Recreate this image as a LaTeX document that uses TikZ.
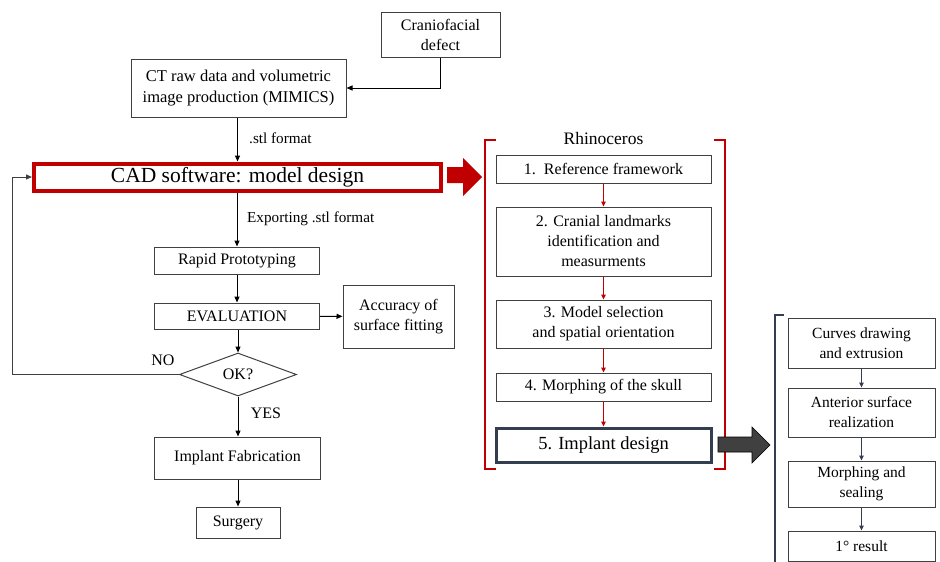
\documentclass[tikz,border=0pt]{standalone}
\usepackage{fontspec}
\setmainfont{Liberation Serif}
\newfontfamily\tnr{Liberation Serif}
\usetikzlibrary{shapes.geometric,arrows.meta}
\definecolor{cred}{HTML}{C00000}
\definecolor{slate}{HTML}{333F50}
\definecolor{bgray}{HTML}{404040}
\definecolor{darkfill}{HTML}{404040}
\begin{document}
\begin{tikzpicture}[x=1pt,y=-1pt,
  box/.style={draw=bgray,line width=1pt,align=center,inner sep=0pt,font=\tnr\fontsize{16}{20}\selectfont},
  sbox/.style={box,font=\tnr\fontsize{15.5}{20}\selectfont},
  lbl/.style={inner sep=0pt,font=\tnr\fontsize{15.2}{17}\selectfont},
  arr/.style={-{Triangle[length=6pt,width=5pt]},line width=1pt,draw=black},
  rarr/.style={-{Triangle[length=5pt,width=4.5pt]},line width=1pt,draw=cred},
  sarr/.style={-{Triangle[length=5pt,width=4.5pt]},line width=1pt,draw=slate}
]
\useasboundingbox (0,0) rectangle (940,562);

% left column
\node[box,minimum width=119pt,minimum height=45pt] (cf) at (440.5,34.5) {Craniofacial\\defect};
\node[box,minimum width=215pt,minimum height=58pt,font=\tnr\fontsize{16.5}{20.5}\selectfont] (ct) at (238.5,88) {CT raw data and volumetric\\image production (MIMICS)};
\node[box,draw=cred,line width=4pt,minimum width=407pt,minimum height=27pt,font=\tnr\fontsize{21.5}{24}\selectfont] (cad) at (237.5,177) {CAD software: model design};
\node[box,minimum width=165pt,minimum height=27pt] (rp) at (237,260.5) {Rapid Prototyping};
\node[box,minimum width=165pt,minimum height=26pt] (ev) at (237,316) {EVALUATION};
\node[box,minimum width=111pt,minimum height=63pt] (acc) at (398.5,316.5) {Accuracy of\\surface fitting};
\node[box,shape=diamond,aspect=2.72,minimum width=117pt,minimum height=43pt] (ok) at (238,374.5) {OK?};
\node[box,minimum width=166pt,minimum height=42pt] (fab) at (237.5,458) {Implant Fabrication};
\node[box,minimum width=84pt,minimum height=31pt] (sur) at (238,522.5) {Surgery};

\draw[arr] (cf.south) |- (ct.east);
\draw[arr] (ct.south -| cad.north) -- (cad.north);
\node[lbl,anchor=west] (l1) at (249,138) {.stl format};
\draw[arr] (cad.south -| rp.north) -- (rp.north);
\node[lbl,anchor=west] (l2) at (247,219) {Exporting .stl format};
\draw[arr] (rp) -- (ev);
\draw[arr] (ev) -- (acc);
\draw[arr] (ev.south -| ok.north) -- (ok.north);
\draw[arr] (ok.south) -- (ok.south |- fab.north);
\node[lbl,font=\tnr\fontsize{16}{18}\selectfont] (yes) at (266,413) {YES};
\node[lbl,font=\tnr\fontsize{16}{18}\selectfont] (no) at (163,360) {NO};
\draw[arr,draw=bgray] (ok.west) -- (12,374.5) |- (cad.west);
\draw[arr] (fab.south -| sur.north) -- (sur.north);

% red block arrow
\fill[cred] (447,167) -- (463,167) -- (463,158) -- (482,177) -- (463,196) -- (463,183) -- (447,183) -- cycle;

% Rhinoceros group
\draw[cred,line width=2.2pt] (496,140) -- (485,140) -- (485,469) -- (496,469);
\draw[cred,line width=2.2pt] (714,140) -- (725,140) -- (725,469) -- (714,469);
\node[lbl,font=\tnr\fontsize{17.5}{20}\selectfont] (rh) at (603.5,139) {Rhinoceros};
\node[box,minimum width=215pt,minimum height=28pt] (b1) at (603.5,169) {1.\ \ Reference framework};
\node[box,minimum width=215pt,minimum height=69pt] (b2) at (603.5,241.5) {2. Cranial landmarks\\identification and\\measurments};
\node[box,minimum width=215pt,minimum height=48pt] (b3) at (603.5,324) {3. Model selection\\and spatial orientation};
\node[box,minimum width=215pt,minimum height=28pt] (b4) at (603.5,387) {4. Morphing of the skull};
\node[box,draw=slate,line width=3pt,minimum width=215pt,minimum height=34pt,font=\tnr\fontsize{18.5}{22}\selectfont] (b5) at (603.5,445) {5. Implant design};
\draw[rarr] (b1) -- (b2);
\draw[rarr] (b2) -- (b3);
\draw[rarr] (b3) -- (b4);
\draw[rarr] (b4) -- (b5);

% dark block arrow
\filldraw[fill=darkfill,draw=black,line width=0.6pt] (718,437) -- (752,437) -- (752,427) -- (770,445) -- (752,463) -- (752,452) -- (718,452) -- cycle;

% right group
\draw[slate,line width=2.2pt] (784,315) -- (775,315) -- (775,562);
\node[sbox,minimum width=147pt,minimum height=50pt] (c1) at (861.5,343) {Curves drawing\\and extrusion};
\node[sbox,minimum width=147pt,minimum height=49pt] (c2) at (861.5,412.5) {Anterior surface\\realization};
\node[sbox,minimum width=147pt,minimum height=46pt] (c3) at (861.5,484) {Morphing and\\sealing};
\node[sbox,minimum width=147pt,minimum height=30pt] (c4) at (861.5,546) {1° result};
\draw[sarr] (c1) -- (c2);
\draw[sarr] (c2) -- (c3);
\draw[sarr] (c3) -- (c4);
\end{tikzpicture}
\end{document}
